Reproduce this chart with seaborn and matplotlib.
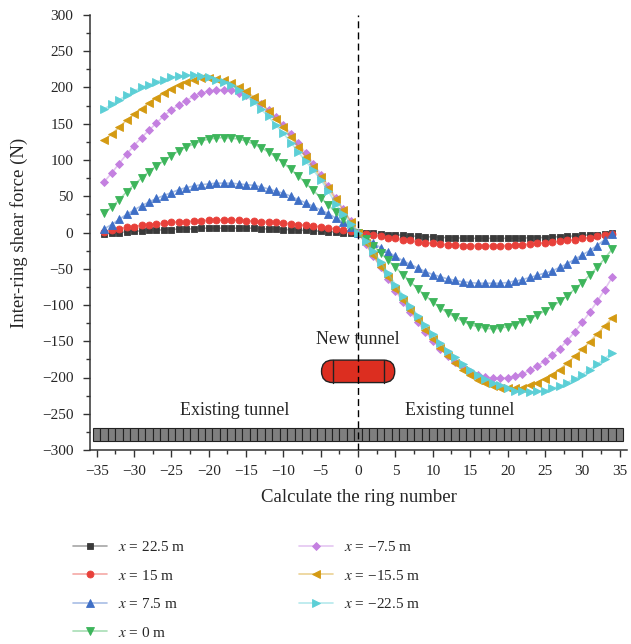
import numpy as np
import pandas as pd
import matplotlib
matplotlib.use("Agg")
import matplotlib.pyplot as plt
from matplotlib.patches import FancyBboxPatch
import seaborn as sns

# ring numbers of the calculated points
rings = list(range(-34, 35))

# inter-ring shear force (N) per load position x
f_22_5 = [-2, -1, 0, 1, 2, 2, 3, 3, 4, 4, 5, 5, 5, 6, 6, 6, 6, 6, 6, 6,
          6, 5, 5, 5, 4, 4, 3, 3, 2, 2, 1, 1, 0, 0,
          0,
          -1, -1, -2, -3, -3, -4, -5, -5, -6, -6, -7, -7, -7, -8, -8, -8, -8, -8, -8, -8,
          -8, -8, -7, -7, -7, -6, -6, -5, -5, -4, -3, -3, -2, -1]
f_15 = [1, 3, 5, 7, 8, 10, 11, 12, 13, 14, 15, 15, 16, 16, 17, 17, 17, 17, 17, 16,
        16, 15, 15, 14, 13, 12, 11, 10, 9, 8, 6, 5, 3, 2,
        0,
        -2, -3, -5, -7, -8, -10, -11, -13, -14, -15, -16, -17, -17, -18, -18, -18, -18, -18, -18, -18,
        -17, -17, -16, -15, -14, -13, -12, -11, -10, -8, -7, -5, -4, -2]
f_7_5 = [5, 11, 18, 25, 31, 37, 42, 47, 51, 55, 59, 62, 64, 66, 67, 68, 68, 68, 67, 66,
         65, 63, 60, 57, 54, 50, 45, 41, 36, 31, 26, 20, 14, 7,
         0,
         -7, -14, -21, -27, -33, -39, -44, -49, -54, -58, -61, -64, -66, -68, -69, -70, -70, -70, -70, -69,
         -67, -65, -62, -59, -56, -53, -48, -43, -37, -31, -25, -18, -10, -2]
f_0 = [27, 35, 45, 56, 66, 75, 84, 92, 99, 106, 113, 118, 122, 126, 129, 130, 131, 130, 129, 126,
       122, 117, 111, 104, 96, 87, 78, 68, 58, 48, 38, 28, 18, 9,
       0,
       -9, -18, -28, -38, -48, -58, -68, -78, -87, -96, -104, -111, -117, -122, -127, -130, -132, -133, -132, -130,
       -127, -123, -119, -114, -108, -102, -95, -87, -78, -69, -59, -48, -36, -23]
f_m7_5 = [70, 82, 95, 108, 120, 131, 141, 151, 161, 169, 176, 182, 188, 192, 195, 197, 197, 196, 193, 189,
          184, 177, 169, 159, 148, 136, 123, 109, 95, 80, 64, 48, 32, 16,
          0,
          -16, -32, -48, -64, -80, -96, -110, -124, -137, -149, -160, -170, -179, -186, -192, -196, -199, -201, -201, -200,
          -198, -195, -190, -184, -177, -169, -160, -149, -137, -124, -110, -95, -79, -62]
f_m15_5 = [127, 136, 145, 155, 163, 171, 179, 186, 192, 198, 203, 207, 211, 213, 213, 212, 210, 206, 201, 195,
           187, 178, 168, 157, 145, 132, 118, 104, 90, 76, 61, 46, 31, 15,
           0,
           -15, -31, -47, -62, -78, -93, -107, -121, -134, -147, -159, -170, -180, -189, -197, -203, -208, -212, -214, -215,
           -215, -214, -211, -207, -202, -196, -189, -180, -171, -161, -151, -140, -129, -118]
f_m22_5 = [170, 177, 183, 189, 195, 200, 204, 208, 211, 214, 216, 217, 217, 216, 214, 211, 207, 203, 196, 188,
           180, 170, 160, 148, 137, 124, 111, 98, 86, 73, 57, 40, 25, 12,
           0,
           -12, -26, -40, -56, -72, -87, -101, -115, -128, -140, -152, -163, -172, -181, -189, -196, -202, -207, -211, -215,
           -218, -219, -220, -219, -218, -215, -212, -207, -202, -196, -189, -182, -174, -166]

labels = ["$x$ = 22.5 m", "$x$ = 15 m", "$x$ = 7.5 m", "$x$ = 0 m",
          "$x$ = \u22127.5 m", "$x$ = \u221215.5 m", "$x$ = \u221222.5 m"]
series = [f_22_5, f_15, f_7_5, f_0, f_m7_5, f_m15_5, f_m22_5]
colors = ["#3a3a3a", "#e8403a", "#3f6fc6", "#3db55b", "#c480e0", "#d49a12", "#5ccfd6"]
markers = ["s", "o", "^", "v", "D", "<", ">"]
msizes = [4.5, 5, 6, 6, 4.5, 6, 6]

# existing tunnel segments (one per ring)
seg_rings = list(range(-35, 36))

sns.set_theme(style="ticks")
plt.rcParams["font.family"] = ["Liberation Serif", "DejaVu Serif"]
plt.rcParams["mathtext.fontset"] = "stix"
plt.rcParams["axes.unicode_minus"] = True

fig = plt.figure(figsize=(6.31, 6.44), dpi=100)
ax = fig.add_axes([90 / 631, 1 - 450 / 644, 537 / 631, 435 / 644])

for vals, lbl, c, m, ms in zip(series, labels, colors, markers, msizes):
    sns.lineplot(x=rings, y=vals, ax=ax, label=lbl,
                 color=matplotlib.colors.to_rgba(c, 0.45), lw=1.2,
                 marker=m, markersize=ms, markerfacecolor=c, markeredgecolor=c,
                 markeredgewidth=0.6)

# existing tunnel
ax.bar(seg_rings, [18] * len(seg_rings), bottom=-288, width=1.0,
       color="#7f7f7f", edgecolor="#222222", linewidth=0.8, zorder=3)

# new tunnel (capsule)
capsule = FancyBboxPatch((-4.9, -207), 9.8, 31,
                         boxstyle="round,pad=0,rounding_size=1.5",
                         mutation_aspect=10.3,
                         facecolor="#dc2e20", edgecolor="#222222", lw=1.0, zorder=4)
ax.add_patch(capsule)
ax.plot([-3.3, -3.3], [-207, -176], color="#222222", lw=1.0, zorder=5)
ax.plot([3.4, 3.4], [-207, -176], color="#222222", lw=1.0, zorder=5)

ax.axvline(0, color="black", ls=(0, (5, 3)), lw=1.0, zorder=6)

ax.text(0, -148, "New tunnel", ha="center", va="center", fontsize=13)
ax.text(-16.5, -245, "Existing tunnel", ha="center", va="center", fontsize=13)
ax.text(13.6, -245, "Existing tunnel", ha="center", va="center", fontsize=13)

ax.set_xlim(-35.9, 36)
ax.set_ylim(-300, 300)
ax.set_xticks(range(-35, 36, 5))
ax.set_xticks(np.arange(-35, 36, 2.5), minor=True)
ax.set_yticks(range(-300, 301, 50))
ax.set_yticks(range(-300, 301, 25), minor=True)
ax.tick_params(axis="both", which="major", direction="out", length=5, width=1,
               labelsize=11, color="#333333")
ax.tick_params(axis="y", which="major", pad=7)
ax.tick_params(axis="x", which="major", pad=5.7)
ax.tick_params(axis="both", which="minor", direction="out", length=3, width=1, color="#333333")
for side in ["top", "right"]:
    ax.spines[side].set_visible(False)
for side in ["left", "bottom"]:
    ax.spines[side].set_linewidth(1.1)
    ax.spines[side].set_color("#333333")

ax.set_xlabel("Calculate the ring number", fontsize=13.5, labelpad=8)
ax.set_ylabel("Inter-ring shear force (N)", fontsize=13.5, labelpad=10)

handles, lbls = ax.get_legend_handles_labels()
if ax.legend_:
    ax.legend_.remove()
fig.legend(handles, lbls, ncol=2, loc="upper left", frameon=False,
           bbox_to_anchor=(73 / 631, 1 - 540 / 644), fontsize=11,
           handlelength=2.25, handletextpad=0.7, columnspacing=7.4,
           labelspacing=0.95, borderpad=0, borderaxespad=0)

fig.savefig("out.png", dpi=100)
